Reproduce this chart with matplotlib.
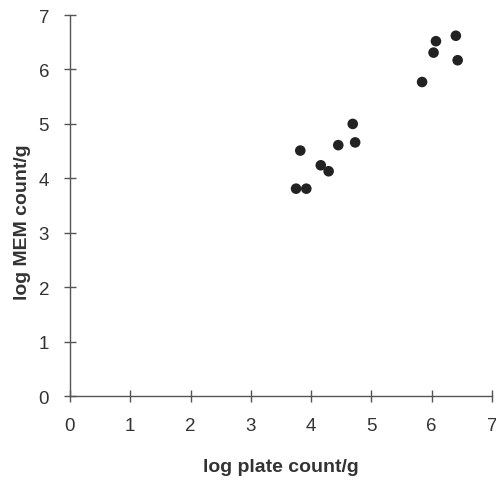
import matplotlib
matplotlib.use("Agg")
import matplotlib.pyplot as plt

plt.rcParams['font.family'] = ['Liberation Sans', 'DejaVu Sans']

# log plate count/g vs log MEM count/g
plate_count = [3.75, 3.92, 3.82, 4.16, 4.29, 4.45, 4.69, 4.73, 5.84, 6.03, 6.07, 6.40, 6.43]
mem_count = [3.81, 3.81, 4.51, 4.24, 4.13, 4.61, 5.00, 4.66, 5.77, 6.31, 6.52, 6.62, 6.17]
ticks = [0, 1, 2, 3, 4, 5, 6, 7]

fig = plt.figure(figsize=(4.96, 4.81), dpi=100)
ax = fig.add_axes([0.141, 0.1746, 0.851, 0.792])

ax.scatter(plate_count, mem_count, s=58, color='#222222', edgecolors='none', zorder=3)

ax.set_xlim(0, 7)
ax.set_ylim(0, 7)
ax.set_xticks(ticks)
ax.set_yticks(ticks)

for side in ('top', 'right'):
    ax.spines[side].set_visible(False)
for side in ('left', 'bottom'):
    ax.spines[side].set_color('#555555')
    ax.spines[side].set_linewidth(1.0)

ax.tick_params(direction='inout', length=8, width=1.0, color='#555555',
               labelsize=13.5, labelcolor='#333333', pad=11)

ax.set_xlabel('log plate count/g', fontsize=14, fontweight='bold', color='#333333')
ax.set_ylabel('log MEM count/g', fontsize=14, fontweight='bold', color='#333333')
ax.xaxis.set_label_coords(0.5, -0.163)
ax.yaxis.set_label_coords(-0.092, 0.46)

fig.savefig('out.png', dpi=100)
